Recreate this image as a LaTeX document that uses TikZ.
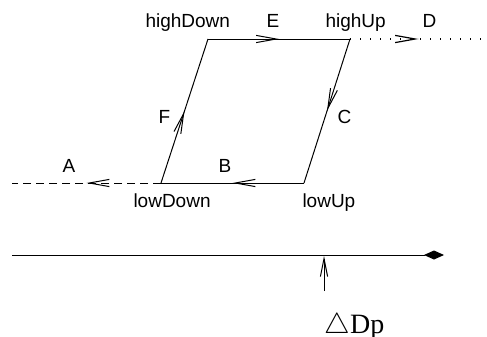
\documentclass[tikz,border=0pt]{standalone}
\usepackage{fontspec}
\setmainfont{Liberation Serif}
\setsansfont{Liberation Sans}
\usetikzlibrary{arrows.meta,decorations.markings}

\begin{document}
\begin{tikzpicture}[x=0.5pt, y=-0.5pt, line width=0.5pt,
  every node/.style={font=\sffamily\fontsize{9.5}{11}\selectfont, inner sep=0pt, anchor=base west},
  midarrow/.style={postaction={decorate}, decoration={markings,
    mark=at position 0.5 with {\arrow{Straight Barb[length=10pt,width=3.6pt]}}}}]
\useasboundingbox (0,0) rectangle (487,337);
% corners of the loop
\coordinate (highDown) at (208,39);
\coordinate (highUp) at (350,39);
\coordinate (lowUp) at (304,183);
\coordinate (lowDown) at (161,183);
\coordinate (aEnd) at (12,183);
\coordinate (dEnd) at (487,39);
% axis
\coordinate (axisL) at (12,255);
\coordinate (axisR) at (444,255);
\coordinate (dpFoot) at (324,291);
\coordinate (dpTip) at (324,256);
\draw[midarrow] (highDown) -- (highUp);
\draw[midarrow] (highUp) -- (lowUp);
\draw[midarrow] (lowUp) -- (lowDown);
\draw[midarrow] (lowDown) -- (highDown);
\draw[midarrow, dash pattern=on 4pt off 2.5pt] (lowDown) -- (aEnd);
\draw[midarrow, line width=0.6pt, dash pattern=on 0.6pt off 4.4pt] (highUp) -- (dEnd);
\draw[-{Kite[length=10pt,width=4.5pt,inset=5pt]}] (axisL) -- (axisR);
\draw[-{Straight Barb[length=9pt,width=3.6pt]}] (dpFoot) -- (dpTip);
% labels
\node (lHighDown) at (145,27) {highDown};
\node (lE) at (266,27) {E};
\node (lHighUp) at (325,27) {highUp};
\node (lD) at (422,27) {D};
\node (lF) at (158,123) {F};
\node (lC) at (337,123) {C};
\node (lA) at (62,172) {A};
\node (lB) at (218,172) {B};
\node (lLowDown) at (133,207) {lowDown};
\node (lLowUp) at (302,207) {lowUp};
\node[font=\rmfamily\fontsize{14}{16}\selectfont] (lDp) at (324,333) {$\triangle$Dp};
\end{tikzpicture}
\end{document}
